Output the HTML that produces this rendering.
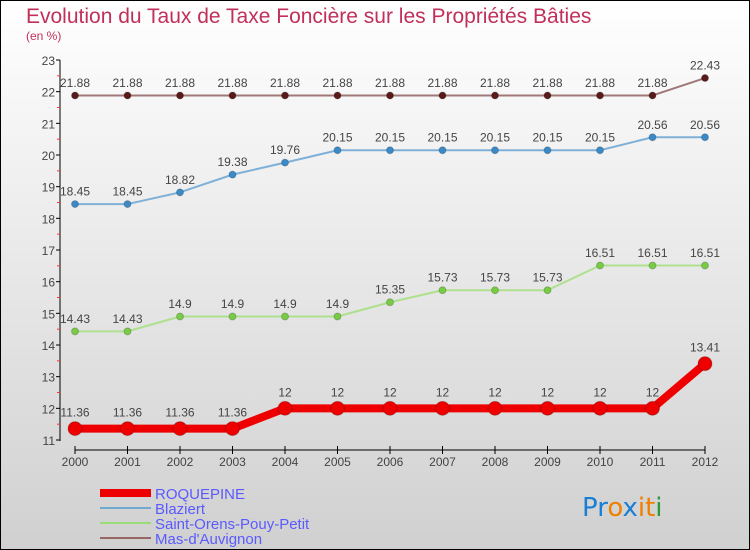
<!DOCTYPE html>
<html><head><meta charset="utf-8"><style>
body{margin:0;width:750px;height:550px;overflow:hidden}
svg{display:block;font-family:"Liberation Sans",sans-serif}
</style></head><body>
<svg width="750" height="550" viewBox="0 0 750 550">
<defs><linearGradient id="bg" x1="0" y1="0" x2="0" y2="1"><stop offset="0" stop-color="#ffffff"/><stop offset="1" stop-color="#d0d0d0"/></linearGradient></defs>
<rect x="0.5" y="0.5" width="749" height="549" fill="url(#bg)" stroke="#000"/>
<text x="26" y="23" font-size="21" fill="#c0305a">Evolution du Taux de Taxe Foncière sur les Propriétés Bâties</text>
<text x="26" y="40" font-size="12" fill="#c0305a">(en %)</text>
<g id="axes"></g>
<g id="series"></g>
<g>
<rect x="100" y="489" width="51" height="8" fill="#e00"/>
<text x="155" y="499" font-size="15" fill="#5a5aff">ROQUEPINE</text>
<rect x="100" y="507" width="51" height="2" fill="#6fa8d0"/>
<text x="155" y="514" font-size="15" fill="#5a5aff">Blaziert</text>
<rect x="100" y="522" width="51" height="2" fill="#99dd77"/>
<text x="155" y="529" font-size="15" fill="#5a5aff">Saint-Orens-Pouy-Petit</text>
<rect x="100" y="537" width="51" height="2" fill="#996666"/>
<text x="155" y="544" font-size="15" fill="#5a5aff">Mas-d'Auvignon</text>
</g>
<g font-size="26" font-family="'DejaVu Sans',sans-serif">
<text x="582" y="516"><tspan fill="#1a7fd4">Pr</tspan><tspan fill="#f08000">o</tspan><tspan fill="#1a7fd4">x</tspan><tspan fill="#f08000">it</tspan><tspan fill="#2a9a3a">i</tspan></text>
</g>
</svg>
<script>
const years=[2000,2001,2002,2003,2004,2005,2006,2007,2008,2009,2010,2011,2012];
const roquepine=[11.36,11.36,11.36,11.36,12,12,12,12,12,12,12,12,13.41];
const blaziert=[18.45,18.45,18.82,19.38,19.76,20.15,20.15,20.15,20.15,20.15,20.15,20.56,20.56];
const saintOrens=[14.43,14.43,14.9,14.9,14.9,14.9,15.35,15.73,15.73,15.73,16.51,16.51,16.51];
const masAuvignon=[21.88,21.88,21.88,21.88,21.88,21.88,21.88,21.88,21.88,21.88,21.88,21.88,22.43];
const yTicks=[11,12,13,14,15,16,17,18,19,20,21,22,23];
const NS="http://www.w3.org/2000/svg";
const xS=i=>75+i*52.5;
const yS=v=>440-(v-11)*31.667;
function mk(tag,at,parent){const e=document.createElementNS(NS,tag);for(const k in at)e.setAttribute(k,at[k]);parent.appendChild(e);return e;}
const ax=document.getElementById('axes');
let l=mk('line',{x1:60,y1:60,x2:60,y2:441,stroke:'#000'},ax);


yTicks.forEach(v=>{
 mk('line',{x1:56,y1:yS(v),x2:60,y2:yS(v),stroke:'#000'},ax);
 if(v<23) mk('line',{x1:57,y1:yS(v+0.5),x2:60,y2:yS(v+0.5),stroke:'#f33'},ax);
 const t=mk('text',{x:55,y:yS(v)+5,'font-size':12,fill:'#444','text-anchor':'end'},ax);
 t.textContent=v;
 
 
});
l=mk('line',{x1:75,y1:450,x2:705,y2:450,stroke:'#000'},ax);


years.forEach((y,i)=>{
 mk('line',{x1:xS(i),y1:446,x2:xS(i),y2:454,stroke:'#000'},ax);
 const t=mk('text',{x:xS(i),y:466,'font-size':12,fill:'#444','text-anchor':'middle'},ax);
 t.textContent=y;
 
 
});
const sg=document.getElementById('series');
function series(vals,name,col,dot,w,r){
 const g=mk('g',{},sg);
 
 
 const p=mk('polyline',{points:vals.map((v,i)=>xS(i)+','+yS(v)).join(' '),fill:'none',stroke:col,'stroke-width':w,'stroke-linejoin':'round'},g);
 
 
 vals.forEach((v,i)=>{
  const c=mk('circle',{cx:xS(i),cy:yS(v),r:r,fill:dot,stroke:'#00000033'},g);
  
  
  const t=mk('text',{x:xS(i),y:yS(v)-r-5,'font-size':12,fill:'#444','text-anchor':'middle'},g);
  t.textContent=v;
  
  
 });
}
series(masAuvignon,'mas-d-auvignon','#a07878','#5a1a1a',2,3.5);
series(blaziert,'blaziert','#7fb0d8','#3a8ac8',2,3.5);
series(saintOrens,'saint-orens','#aee08e','#77cc44',2,3.5);
series(roquepine,'roquepine','#e00','#e00',8,7);
</script>
</body></html>
